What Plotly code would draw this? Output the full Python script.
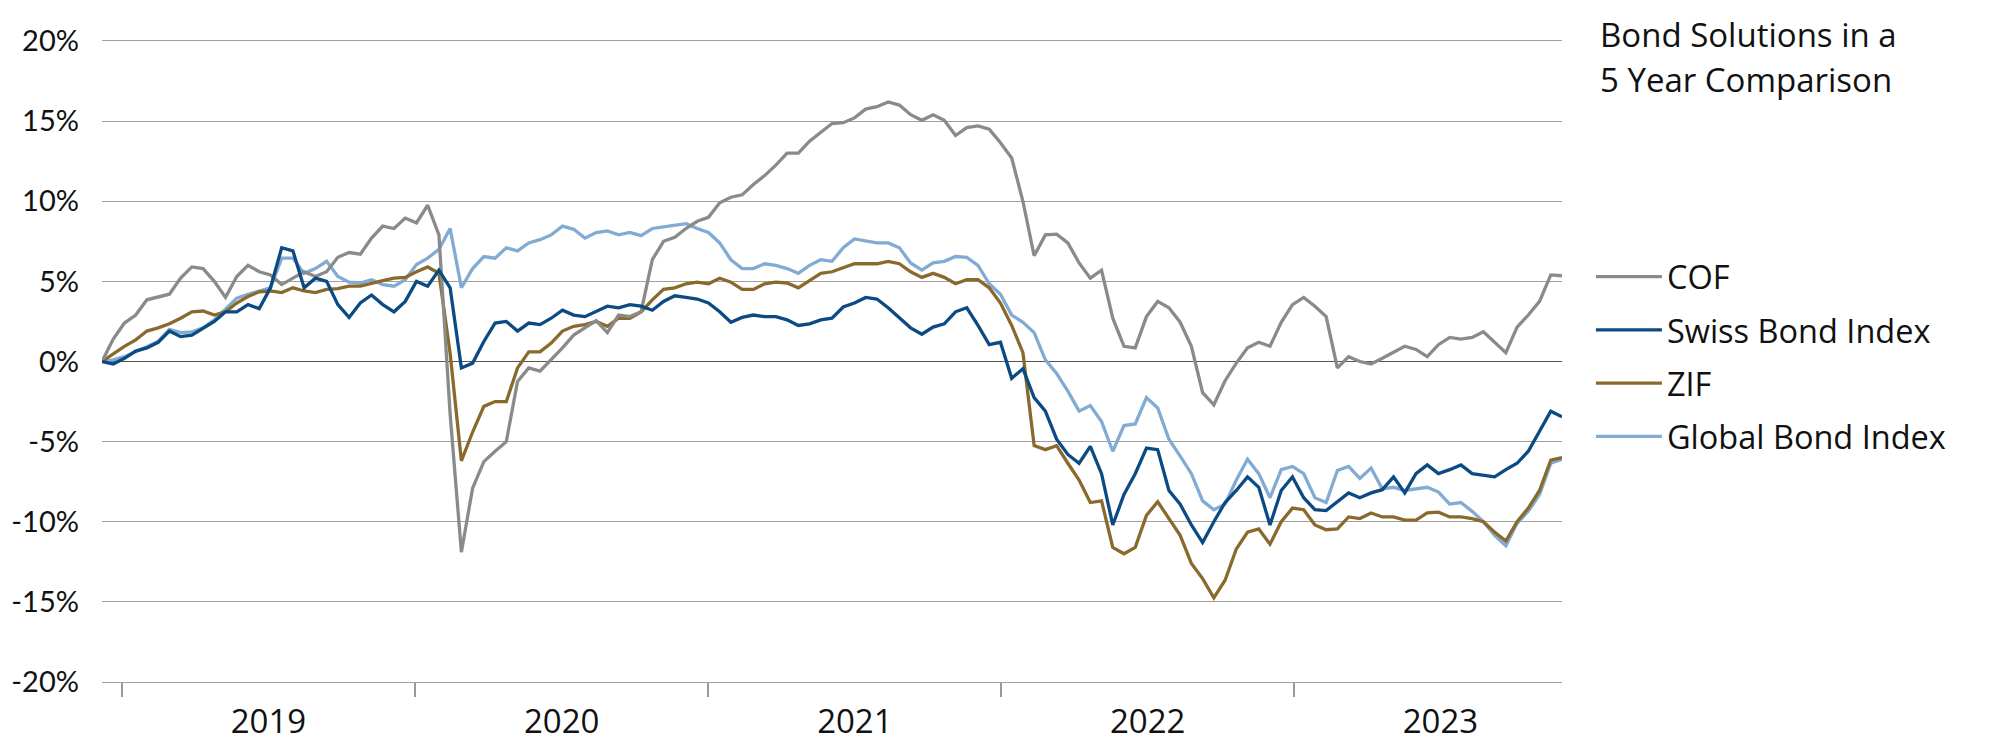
import plotly.graph_objects as go
import pandas as pd

# bi-weekly observation dates
dates = pd.date_range("2018-12-07", periods=131, freq="14D")

cof = [0.0, 1.4, 2.4, 2.9, 3.85, 4.0, 4.2, 5.2, 5.9, 5.8,
       5.0, 4.0, 5.3, 6.0, 5.6, 5.4, 4.8, 5.2, 5.6, 5.3,
       5.6, 6.5, 6.8, 6.7, 7.7, 8.45, 8.3, 8.95, 8.65, 9.75,
       7.9, -3.3, -11.9, -7.9, -6.25, -5.6, -5.0, -1.25, -0.4, -0.6,
       0.1, 0.85, 1.65, 2.1, 2.55, 1.8, 2.9, 2.8, 3.1, 6.35,
       7.5, 7.75, 8.3, 8.75, 9.0, 9.9, 10.25, 10.4, 11.05, 11.6,
       12.25, 13.0, 13.0, 13.75, 14.3, 14.85, 14.9, 15.2, 15.75, 15.9,
       16.2, 16.0, 15.4, 15.05, 15.4, 15.05, 14.1, 14.6, 14.7, 14.5,
       13.65, 12.7, 10.0, 6.6, 7.9, 7.95, 7.4, 6.15, 5.2, 5.7,
       2.7, 0.95, 0.85, 2.8, 3.75, 3.35, 2.45, 0.95, -1.95, -2.7,
       -1.2, -0.1, 0.85, 1.2, 0.95, 2.45, 3.55, 4.0, 3.45, 2.8,
       -0.4, 0.3, 0.0, -0.15, 0.2, 0.55, 0.95, 0.75, 0.3, 1.05,
       1.5, 1.4, 1.5, 1.85, 1.2, 0.55, 2.15, 2.9, 3.75, 5.4,
       5.35]

swiss = [0.0, -0.15, 0.2, 0.65, 0.85, 1.2, 1.9, 1.55, 1.65, 2.1,
         2.5, 3.1, 3.1, 3.55, 3.3, 4.6, 7.1, 6.9, 4.6, 5.2,
         5.0, 3.55, 2.75, 3.65, 4.15, 3.55, 3.1, 3.75, 5.0, 4.7,
         5.7, 4.6, -0.4, -0.1, 1.25, 2.4, 2.5, 1.9, 2.4, 2.3,
         2.7, 3.2, 2.9, 2.8, 3.1, 3.45, 3.35, 3.55, 3.45, 3.2,
         3.75, 4.1, 4.0, 3.9, 3.65, 3.1, 2.45, 2.75, 2.9, 2.8,
         2.8, 2.6, 2.25, 2.35, 2.6, 2.7, 3.4, 3.65, 4.0, 3.9,
         3.35, 2.7, 2.1, 1.7, 2.15, 2.35, 3.1, 3.35, 2.25, 1.05,
         1.2, -1.05, -0.45, -2.25, -3.1, -4.85, -5.8, -6.35, -5.3, -7.0,
         -10.2, -8.3, -7.0, -5.4, -5.5, -8.05, -8.9, -10.2, -11.3, -10.0,
         -8.8, -8.05, -7.2, -7.85, -10.2, -8.05, -7.2, -8.5, -9.25, -9.3,
         -8.75, -8.2, -8.5, -8.2, -8.0, -7.2, -8.2, -7.0, -6.45, -7.0,
         -6.75, -6.45, -7.0, -7.1, -7.2, -6.75, -6.35, -5.6, -4.3, -3.1,
         -3.45]

zif = [0.0, 0.5, 0.95, 1.35, 1.9, 2.1, 2.35, 2.7, 3.1, 3.15,
       2.9, 3.1, 3.65, 4.05, 4.35, 4.4, 4.3, 4.6, 4.4, 4.3,
       4.5, 4.55, 4.7, 4.7, 4.9, 5.05, 5.2, 5.25, 5.6, 5.9,
       5.5, 0.5, -6.2, -4.4, -2.8, -2.5, -2.5, -0.4, 0.6, 0.6,
       1.15, 1.9, 2.2, 2.3, 2.5, 2.2, 2.7, 2.7, 3.1, 3.85,
       4.5, 4.6, 4.85, 4.95, 4.85, 5.2, 4.95, 4.5, 4.5, 4.85,
       4.95, 4.9, 4.6, 5.05, 5.5, 5.6, 5.85, 6.1, 6.1, 6.1,
       6.25, 6.1, 5.6, 5.25, 5.5, 5.25, 4.85, 5.1, 5.1, 4.6,
       3.65, 2.25, 0.55, -5.25, -5.5, -5.25, -6.35, -7.4, -8.8, -8.7,
       -11.6, -12.0, -11.6, -9.6, -8.75, -9.8, -10.85, -12.6, -13.55, -14.75,
       -13.65, -11.7, -10.65, -10.45, -11.4, -10.0, -9.15, -9.25, -10.2, -10.5,
       -10.45, -9.7, -9.8, -9.45, -9.7, -9.7, -9.9, -9.9, -9.45, -9.4,
       -9.7, -9.7, -9.8, -10.0, -10.65, -11.2, -10.0, -9.15, -8.05, -6.15,
       -6.0]

global_bond = [0.0, 0.1, 0.3, 0.6, 0.95, 1.25, 2.0, 1.8, 1.85, 2.1,
               2.6, 3.3, 3.95, 4.2, 4.4, 4.6, 6.45, 6.45, 5.5, 5.8,
               6.25, 5.3, 4.95, 4.9, 5.1, 4.8, 4.7, 5.1, 6.05, 6.45,
               7.0, 8.3, 4.6, 5.8, 6.55, 6.45, 7.1, 6.9, 7.4, 7.6,
               7.9, 8.45, 8.25, 7.7, 8.05, 8.15, 7.9, 8.05, 7.85, 8.3,
               8.4, 8.5, 8.6, 8.3, 8.05, 7.4, 6.35, 5.8, 5.8, 6.1,
               6.0, 5.8, 5.5, 6.0, 6.35, 6.25, 7.1, 7.65, 7.55, 7.4,
               7.4, 7.1, 6.15, 5.7, 6.15, 6.25, 6.55, 6.5, 6.0, 4.85,
               4.2, 2.9, 2.45, 1.8, 0.1, -0.75, -1.85, -3.1, -2.75, -3.75,
               -5.6, -4.0, -3.9, -2.25, -2.9, -4.85, -5.9, -7.0, -8.7, -9.25,
               -8.9, -7.4, -6.1, -7.0, -8.5, -6.75, -6.55, -7.0, -8.5, -8.8,
               -6.8, -6.55, -7.3, -6.65, -7.95, -7.85, -8.05, -7.95, -7.85, -8.15,
               -8.9, -8.8, -9.35, -10.0, -10.85, -11.5, -10.1, -9.35, -8.3, -6.35,
               -6.1]

series_names = ["COF", "Swiss Bond Index", "ZIF", "Global Bond Index"]
series_values = [cof, swiss, zif, global_bond]
series_colors = ["#8a8a8a", "#0b4a82", "#8a6a2c", "#82abd3"]
draw_order = [3, 2, 0, 1]  # drawing order (back to front)

y_ticks = [-20, -15, -10, -5, 0, 5, 10, 15, 20]
y_tick_labels = ["-20%", "-15%", "-10%", "-5%", "0%", "5%", "10%", "15%", "20%"]
title_lines = ["Bond Solutions in a", "5 Year Comparison"]

TEXT_FONT = "Open Sans"
NUM_FONT = "Lato"
INK = "#111111"

fig = go.Figure()
for i in draw_order:
    fig.add_trace(go.Scatter(
        x=dates, y=series_values[i], mode="lines", name=series_names[i],
        line=dict(color=series_colors[i], width=3.3),
        legendrank=i + 1, legendgroup=str(i),
    ))

fig.update_layout(
    width=2000, height=753,
    margin=dict(l=94, r=446, t=33, b=79, autoexpand=False),
    paper_bgcolor="white", plot_bgcolor="white",
    font=dict(family=TEXT_FONT, size=31, color=INK),
    showlegend=True,
    legend=dict(
        x=1.0198, xanchor="left", y=0.6756, yanchor="top",
        traceorder="grouped", tracegroupgap=8,
        itemwidth=66, font=dict(size=32.5, family=TEXT_FONT, color=INK),
        bgcolor="rgba(0,0,0,0)",
    ),
    xaxis=dict(
        type="date",
        range=[dates[0], dates[-1]],
        automargin=False,
        showgrid=False, zeroline=False,
        showline=True, linecolor="#a0a0a0", linewidth=1.3, mirror=True,
        tick0="2019-01-01", dtick="M12", tickformat="%Y",
        ticklabelmode="period",
        ticks="outside", ticklen=14, tickwidth=1.5, tickcolor="#9a9a9a",
        ticklabelstandoff=-4,
        tickfont=dict(size=33, family=TEXT_FONT, color=INK),
    ),
    yaxis=dict(
        range=[-20, 20],
        automargin=False,
        tickvals=y_ticks, ticktext=y_tick_labels,
        showgrid=True, gridcolor="#a0a0a0", gridwidth=1.3,
        zeroline=True, zerolinecolor="#555555", zerolinewidth=1.3,
        showline=False, ticks="",
        ticklabelstandoff=22,
        tickfont=dict(size=29, family=NUM_FONT, color=INK),
    ),
)

fig.add_annotation(text=title_lines[0], xref="paper", yref="paper",
                   x=1.0247, y=1.0103, xanchor="left", yanchor="middle",
                   showarrow=False, font=dict(size=33, family=TEXT_FONT, color=INK))
fig.add_annotation(text=title_lines[1], xref="paper", yref="paper",
                   x=1.0247, y=0.9407, xanchor="left", yanchor="middle",
                   showarrow=False, font=dict(size=33, family=TEXT_FONT, color=INK))

fig.write_html("out.html")
